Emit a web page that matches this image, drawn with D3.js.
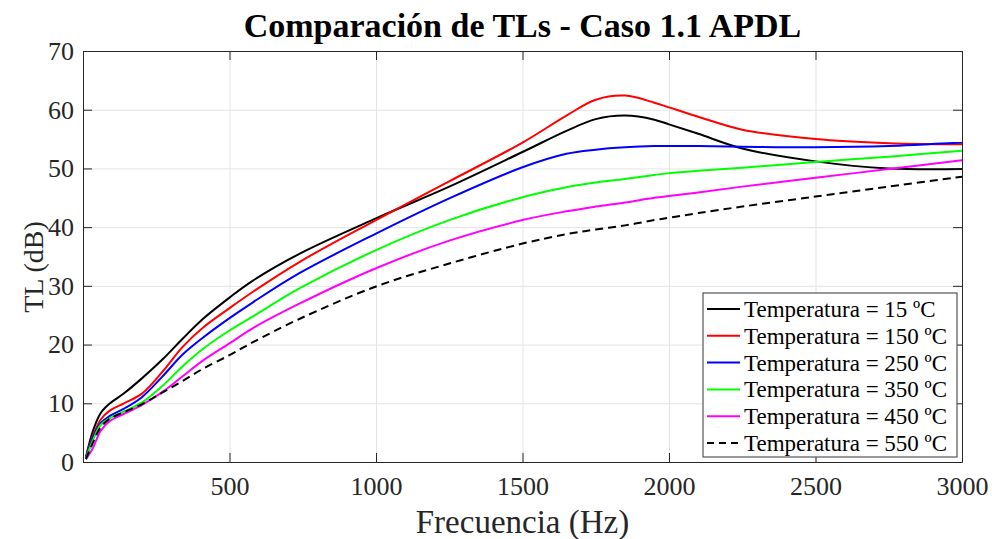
<!DOCTYPE html>
<html>
<head>
<meta charset="utf-8">
<script src="https://cdn.jsdelivr.net/npm/d3@7"></script>
<style>
  body { margin: 0; background: #fff; }
  svg { display: block; font-family: "Liberation Serif", serif; }
  .axis text { fill: #262626; font-size: 26px; font-family: "Liberation Serif", serif; }
  .axis path, .axis line { stroke: #262626; }
  .grid line { stroke: #e3e3e3; }
  .grid path { display: none; }
</style>
</head>
<body>
<svg id="chart" width="992" height="539"></svg>
<script>
var freqs = [10, 34, 60, 90, 140, 200, 270, 340, 410, 500, 580, 740, 1000, 1250, 1500, 1650, 1750, 1850, 1950, 2000, 2100, 2250, 2500, 2750, 3000];

var tl15  = [0.8, 5.3, 8.3, 9.9, 11.7, 14.2, 17.4, 21.0, 24.4, 28.0, 30.9, 35.5, 41.5, 46.9, 52.8, 56.4, 58.4, 59.0, 58.3, 57.5, 55.9, 53.4, 51.2, 50.0, 49.9];
var tl150 = [0.8, 4.5, 7.2, 8.7, 10.0, 11.6, 15.3, 19.6, 22.9, 26.2, 29.0, 34.1, 41.2, 47.8, 54.4, 59.0, 61.7, 62.4, 61.2, 60.4, 58.8, 56.6, 55.0, 54.3, 54.1];
var tl250 = [0.7, 4.2, 6.6, 7.8, 9.1, 11.0, 14.5, 18.3, 21.2, 24.5, 27.2, 32.2, 38.9, 44.9, 50.2, 52.5, 53.2, 53.6, 53.8, 53.8, 53.8, 53.7, 53.6, 53.8, 54.4];
var tl350 = [0.6, 3.7, 6.3, 7.4, 8.6, 10.1, 12.9, 16.3, 19.3, 22.4, 24.8, 29.6, 36.1, 41.2, 45.1, 46.8, 47.6, 48.2, 48.9, 49.2, 49.6, 50.1, 51.1, 52.0, 53.0];
var tl450 = [0.5, 2.4, 5.3, 6.9, 8.2, 9.7, 11.9, 14.6, 17.3, 20.2, 22.8, 27.0, 33.0, 37.7, 41.2, 42.7, 43.5, 44.2, 45.0, 45.3, 45.9, 46.9, 48.4, 49.9, 51.4];
var tl550 = [0.5, 3.3, 5.9, 7.3, 8.5, 9.8, 11.8, 13.8, 15.9, 18.2, 20.4, 24.4, 29.9, 33.8, 37.2, 38.8, 39.6, 40.3, 41.2, 41.6, 42.4, 43.5, 45.2, 46.9, 48.6];

var seriesNames = ["Temperatura = 15 ºC", "Temperatura = 150 ºC", "Temperatura = 250 ºC",
                   "Temperatura = 350 ºC", "Temperatura = 450 ºC", "Temperatura = 550 ºC"];
var seriesValues = [tl15, tl150, tl250, tl350, tl450, tl550];
var seriesColors = ["#000000", "#ff0000", "#0000ff", "#00ff00", "#ff00ff", "#000000"];
var seriesDash = [null, null, null, null, null, "8,5"];

var xTicks = [500, 1000, 1500, 2000, 2500, 3000];
var yTicks = [0, 10, 20, 30, 40, 50, 60, 70];

var margins = { top: 51, right: 30, bottom: 77, left: 83 };
var width = 992, height = 539;
var chartWidth = width - margins.left - margins.right;
var chartHeight = height - margins.top - margins.bottom;

var svg = d3.select("#chart");
svg.append("rect").attr("width", width).attr("height", height).attr("fill", "#fff");

var chartElement = svg.append("g")
  .attr("transform", `translate(${margins.left},${margins.top})`);

var xScale = d3.scaleLinear().domain([0, 3000]).range([0, chartWidth]);
var yScale = d3.scaleLinear().domain([0, 70]).range([chartHeight, 0]);

// Grid
chartElement.append("g")
  .attr("class", "grid")
  .attr("transform", `translate(0,${chartHeight})`)
  .call(d3.axisBottom(xScale).tickValues(xTicks).tickSize(-chartHeight).tickFormat(""));
chartElement.append("g")
  .attr("class", "grid")
  .call(d3.axisLeft(yScale).tickValues(yTicks).tickSize(-chartWidth).tickFormat(""));

// Lines
var line = d3.line()
  .x((d, i) => xScale(freqs[i]))
  .y(d => yScale(d))
  .curve(d3.curveCatmullRom.alpha(0.5));

chartElement.append("g")
  .attr("class", "lines")
  .selectAll("path")
  .data(seriesValues)
  .enter()
  .append("path")
  .attr("d", d => line(d))
  .attr("fill", "none")
  .attr("stroke", (d, i) => seriesColors[i])
  .attr("stroke-width", 2)
  .attr("stroke-dasharray", (d, i) => seriesDash[i]);

// Axes (ticks inside, box on)
var tickLen = 9;
var fmt = d3.format("d");
chartElement.append("g")
  .attr("class", "x axis")
  .attr("transform", `translate(0,${chartHeight})`)
  .call(d3.axisBottom(xScale).tickValues(xTicks).tickFormat(fmt).tickSizeInner(-tickLen).tickSizeOuter(0).tickPadding(15));
chartElement.append("g")
  .attr("class", "x axis")
  .call(d3.axisTop(xScale).tickValues(xTicks).tickSizeInner(-tickLen).tickSizeOuter(0).tickFormat(""));
chartElement.append("g")
  .attr("class", "y axis")
  .call(d3.axisLeft(yScale).tickValues(yTicks).tickFormat(fmt).tickSizeInner(-tickLen).tickSizeOuter(0).tickPadding(9));
chartElement.append("g")
  .attr("class", "y axis")
  .attr("transform", `translate(${chartWidth},0)`)
  .call(d3.axisRight(yScale).tickValues(yTicks).tickSizeInner(-tickLen).tickSizeOuter(0).tickFormat(""));
chartElement.selectAll(".axis").attr("font-family", null).attr("font-size", null);

// Title and axis labels
svg.append("text")
  .attr("x", margins.left + chartWidth / 2)
  .attr("y", 37)
  .attr("text-anchor", "middle")
  .attr("font-size", 34)
  .attr("font-weight", "bold")
  .attr("fill", "#000")
  .text("Comparación de TLs - Caso 1.1 APDL");

svg.append("text")
  .attr("x", margins.left + chartWidth / 2)
  .attr("y", 533)
  .attr("text-anchor", "middle")
  .attr("font-size", 33)
  .attr("fill", "#262626")
  .text("Frecuencia (Hz)");

svg.append("text")
  .attr("transform", `translate(43,267) rotate(-90)`)
  .attr("text-anchor", "middle")
  .attr("font-size", 28)
  .attr("fill", "#262626")
  .text("TL (dB)");

// Legend
var legend = chartElement.append("g")
  .attr("class", "legend")
  .attr("transform", `translate(${703 - margins.left},${293 - margins.top})`);
legend.append("rect")
  .attr("width", 254).attr("height", 164)
  .attr("fill", "#fff").attr("stroke", "#555").attr("stroke-width", 1.2);
var rows = legend.selectAll("g.row")
  .data(seriesNames)
  .enter()
  .append("g")
  .attr("class", "row")
  .attr("transform", (d, i) => `translate(0,${16 + i * 26.8})`);
rows.append("line")
  .attr("x1", 4).attr("x2", 37)
  .attr("stroke", (d, i) => seriesColors[i])
  .attr("stroke-width", 2)
  .attr("stroke-dasharray", (d, i) => seriesDash[i] ? "7,5" : null);
rows.append("text")
  .attr("x", 41)
  .attr("dy", "0.35em")
  .attr("font-size", 23)
  .attr("fill", "#000")
  .text(d => d);
</script>
</body>
</html>
